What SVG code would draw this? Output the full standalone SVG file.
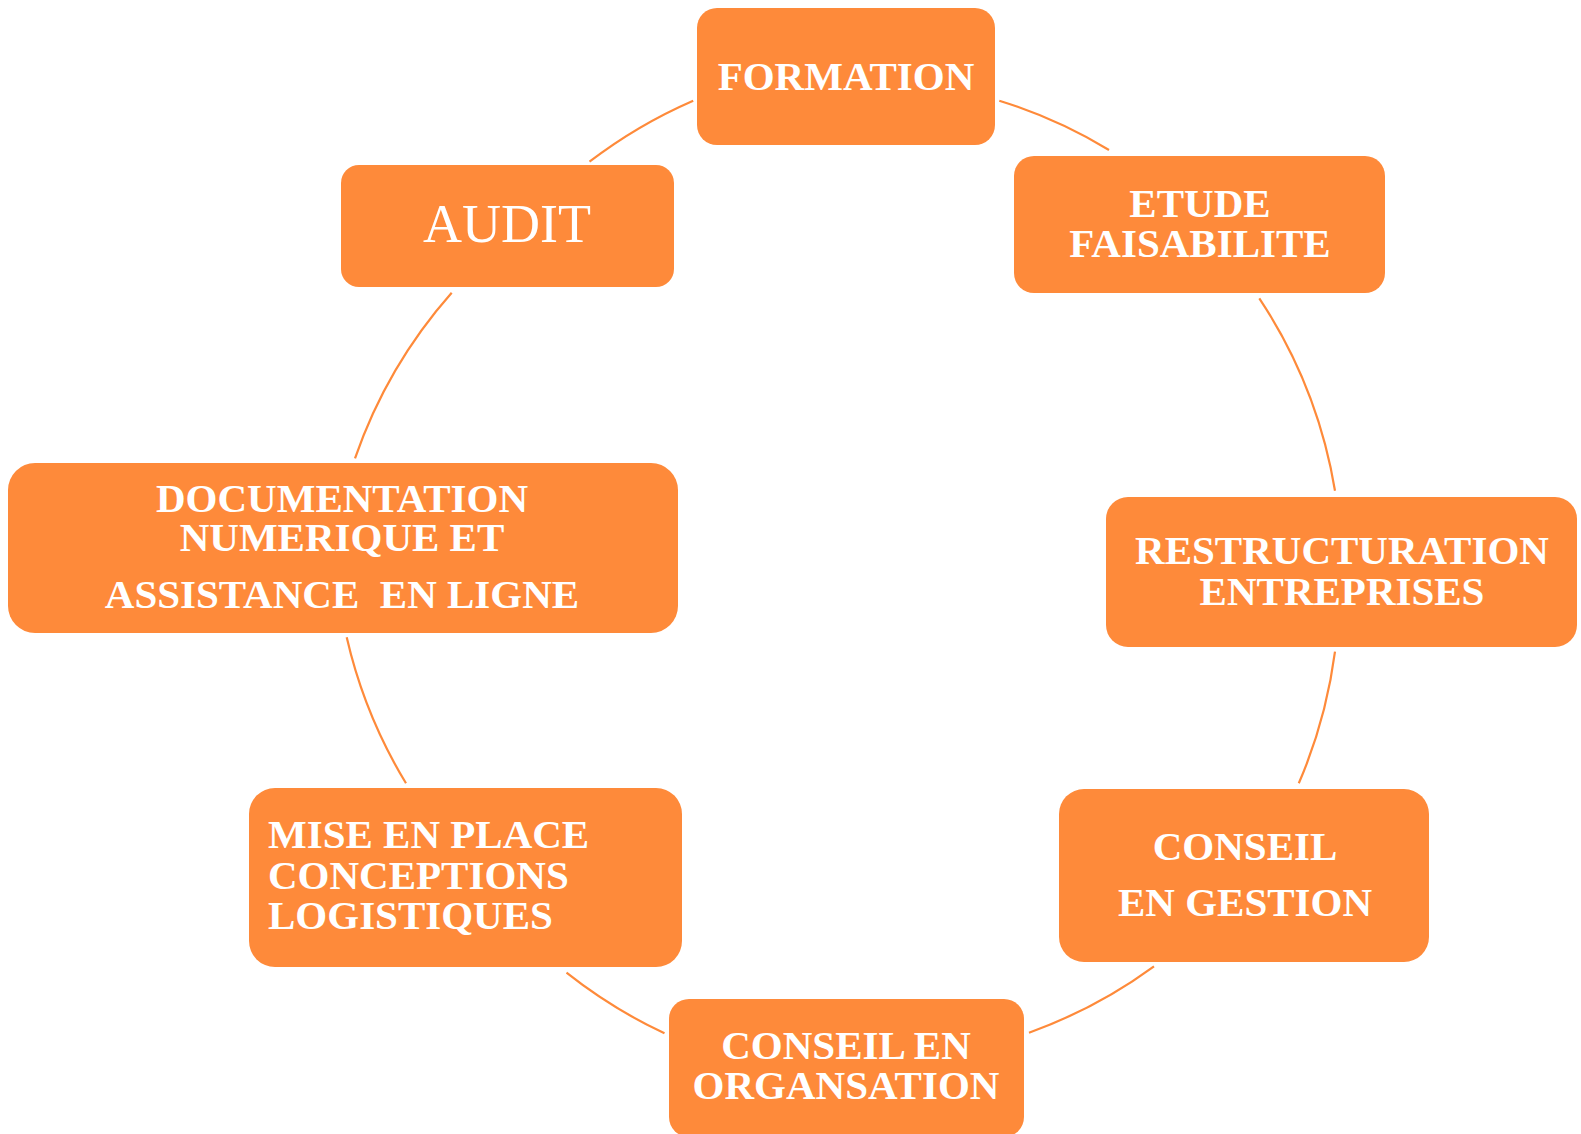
<svg xmlns="http://www.w3.org/2000/svg" width="1581" height="1134" viewBox="0 0 1581 1134">
<style>
.box{fill:#FE8A3A;}
.t{fill:#FFFFFF;font-family:"Liberation Serif","Times New Roman",serif;font-weight:bold;font-size:41px;text-anchor:middle;white-space:pre;}
.tl{text-anchor:start;}
.big{font-size:54px;font-weight:normal;}
.arc{fill:none;stroke:#FE8A3A;stroke-width:2.2;}
</style>
<rect width="1581" height="1134" fill="#FFFFFF"/>
<g id="connectors">
<path class="arc" d="M999.3,100.7 A495,495 0 0 1 1109,150"/>
<path class="arc" d="M1259.3,298.3 A495,495 0 0 1 1335,490.7"/>
<path class="arc" d="M1335,651.7 A495,495 0 0 1 1298.8,783.3"/>
<path class="arc" d="M1154,966.3 A495,495 0 0 1 1029,1032.7"/>
<path class="arc" d="M664.5,1033.3 A495,495 0 0 1 566.5,972.7"/>
<path class="arc" d="M406,783.3 A495,495 0 0 1 346.7,637.3"/>
<path class="arc" d="M355,458.3 A495,495 0 0 1 451.7,292.7"/>
<path class="arc" d="M589.5,161.7 A495,495 0 0 1 693.2,100.7"/>
</g>
<g id="formation">
<rect class="box" x="697" y="8" width="298" height="137" rx="20"/>
<text class="t" x="846" y="90">FORMATION</text>
</g>
<g id="etude">
<rect class="box" x="1014" y="156" width="371" height="137" rx="20"/>
<text class="t" x="1200" y="217">ETUDE</text>
<text class="t" x="1200" y="257">FAISABILITE</text>
</g>
<g id="restructuration">
<rect class="box" x="1106" y="497" width="471" height="150" rx="22"/>
<text class="t" x="1342" y="564">RESTRUCTURATION</text>
<text class="t" x="1342" y="605">ENTREPRISES</text>
</g>
<g id="conseil-gestion">
<rect class="box" x="1059" y="789" width="370" height="173" rx="25"/>
<text class="t" x="1245" y="860">CONSEIL</text>
<text class="t" x="1245" y="916">EN GESTION</text>
</g>
<g id="conseil-organisation">
<rect class="box" x="669" y="999" width="355" height="138" rx="20"/>
<text class="t" x="846" y="1059">CONSEIL EN</text>
<text class="t" x="846" y="1099">ORGANSATION</text>
</g>
<g id="mise-en-place">
<rect class="box" x="249" y="788" width="433" height="179" rx="26"/>
<text class="t tl" x="268" y="848">MISE EN PLACE</text>
<text class="t tl" x="268" y="889">CONCEPTIONS</text>
<text class="t tl" x="268" y="929">LOGISTIQUES</text>
</g>
<g id="documentation">
<rect class="box" x="8" y="463" width="670" height="170" rx="27"/>
<text class="t" x="342" y="512">DOCUMENTATION</text>
<text class="t" x="342" y="551">NUMERIQUE ET</text>
<text class="t" x="342" y="608">ASSISTANCE  EN LIGNE</text>
</g>
<g id="audit">
<rect class="box" x="341" y="165" width="333" height="122" rx="18"/>
<text class="t big" x="507" y="242">AUDIT</text>
</g>
</svg>
